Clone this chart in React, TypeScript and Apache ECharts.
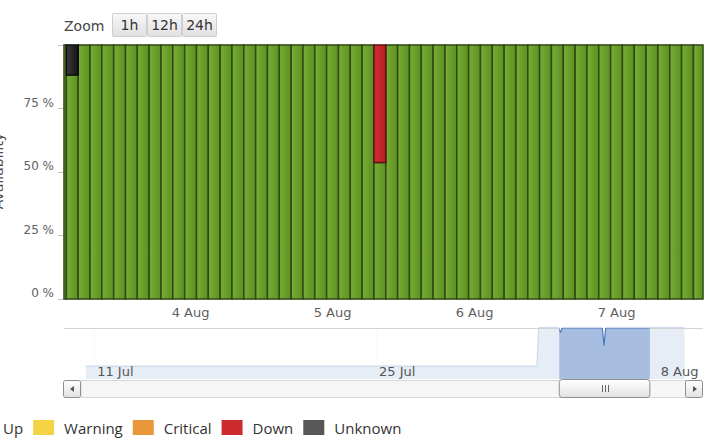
import React, { useEffect, useRef } from "react";
import * as echarts from "echarts";

const HOUR = 3600 * 1000;

// Availability per two-hour bucket; the first bucket is centred on 3 Aug 02:00
const firstBucket = new Date(2016, 7, 3, 2, 0).getTime();
const bucketHours = 2;

const upPct = [
  // 3 Aug 02:00 – 22:00
  100, 88.2, 100, 100, 100, 100, 100, 100, 100, 100, 100,
  // 4 Aug
  100, 100, 100, 100, 100, 100, 100, 100, 100, 100, 100, 100,
  // 5 Aug
  100, 100, 100, 100, 53.7, 100, 100, 100, 100, 100, 100, 100,
  // 6 Aug
  100, 100, 100, 100, 100, 100, 100, 100, 100, 100, 100, 100,
  // 7 Aug 00:00 – 14:00
  100, 100, 100, 100, 100, 100, 100, 100,
];
const warningPct = [
  0, 0, 0, 0, 0, 0, 0, 0, 0, 0, 0,
  0, 0, 0, 0, 0, 0, 0, 0, 0, 0, 0, 0,
  0, 0, 0, 0, 0, 0, 0, 0, 0, 0, 0, 0,
  0, 0, 0, 0, 0, 0, 0, 0, 0, 0, 0, 0,
  0, 0, 0, 0, 0, 0, 0, 0,
];
const criticalPct = [
  0, 0, 0, 0, 0, 0, 0, 0, 0, 0, 0,
  0, 0, 0, 0, 0, 0, 0, 0, 0, 0, 0, 0,
  0, 0, 0, 0, 0, 0, 0, 0, 0, 0, 0, 0,
  0, 0, 0, 0, 0, 0, 0, 0, 0, 0, 0, 0,
  0, 0, 0, 0, 0, 0, 0, 0,
];
const downPct = [
  0, 0, 0, 0, 0, 0, 0, 0, 0, 0, 0,
  0, 0, 0, 0, 0, 0, 0, 0, 0, 0, 0, 0,
  0, 0, 0, 0, 46.3, 0, 0, 0, 0, 0, 0, 0,
  0, 0, 0, 0, 0, 0, 0, 0, 0, 0, 0, 0,
  0, 0, 0, 0, 0, 0, 0, 0,
];
const unknownPct = [
  0, 11.8, 0, 0, 0, 0, 0, 0, 0, 0, 0,
  0, 0, 0, 0, 0, 0, 0, 0, 0, 0, 0, 0,
  0, 0, 0, 0, 0, 0, 0, 0, 0, 0, 0, 0,
  0, 0, 0, 0, 0, 0, 0, 0, 0, 0, 0, 0,
  0, 0, 0, 0, 0, 0, 0, 0,
];

// Navigator overview of the "Up" share over the whole period
const navTimes = [
  new Date(2016, 6, 10, 14).getTime(),
  new Date(2016, 7, 2, 0).getTime(),
  new Date(2016, 7, 2, 2).getTime(),
  new Date(2016, 7, 3, 2).getTime(),
  new Date(2016, 7, 3, 4).getTime(),
  new Date(2016, 7, 3, 6).getTime(),
  new Date(2016, 7, 5, 6).getTime(),
  new Date(2016, 7, 5, 8).getTime(),
  new Date(2016, 7, 5, 10).getTime(),
  new Date(2016, 7, 9, 8).getTime(),
];
const navUp = [0, 0, 100, 100, 88.2, 100, 100, 53.7, 100, 100];

// Visible window of the main chart and the navigator span
const viewMin = new Date(2016, 7, 3, 2, 36).getTime();
const viewMax = new Date(2016, 7, 7, 14, 37).getTime();
const navMin = new Date(2016, 6, 9, 12).getTime();
const navMax = new Date(2016, 7, 10, 6).getTime();

const mainTicks = [
  new Date(2016, 7, 4).getTime(),
  new Date(2016, 7, 5).getTime(),
  new Date(2016, 7, 6).getTime(),
  new Date(2016, 7, 7).getTime(),
];
const navTicks = [
  new Date(2016, 6, 11).getTime(),
  new Date(2016, 6, 25).getTime(),
  new Date(2016, 7, 8).getTime(),
];
const yTicks = [0, 25, 50, 75];

const statusNames = ["Up", "Warning", "Critical", "Down", "Unknown"];
const zoomButtons = ["1h", "12h", "24h"];
const months = ["Jan", "Feb", "Mar", "Apr", "May", "Jun", "Jul", "Aug", "Sep", "Oct", "Nov", "Dec"];

const AXIS_FONT = "DejaVu Sans, Verdana, sans-serif";
const LEGEND_FONT = "Open Sans, Noto Sans, sans-serif";

const dayLabel = (v: number) => {
  const d = new Date(v);
  return `${d.getDate()} ${months[d.getMonth()]}`;
};

const grad = (a: string, b: string) =>
  new echarts.graphic.LinearGradient(0, 0, 1, 0, [
    { offset: 0, color: a },
    { offset: 1, color: b },
  ]);

const statusStyles = [
  { fill: grad("#78ae35", "#5c8f21"), border: "#2f4a16", legend: "#6a9f2a" },
  { fill: grad("#f5d84c", "#e8c736"), border: "#8a7420", legend: "#f4d444" },
  { fill: grad("#eca040", "#dc8a28"), border: "#8a5516", legend: "#e9973a" },
  { fill: grad("#d42d31", "#b21f23"), border: "#5e1212", legend: "#cc2c2e" },
  { fill: grad("#3c3c3c", "#141414"), border: "#0c0c0c", legend: "#575757" },
];
const statusValues = [upPct, warningPct, criticalPct, downPct, unknownPct];

// Stacked rows [bucket time, lower edge, upper edge] for each status
const bucketTimes = upPct.map((_, i) => firstBucket + i * bucketHours * HOUR);
const stackedRows: number[][][] = statusValues.map(() => []);
bucketTimes.forEach((t, i) => {
  let base = 0;
  statusValues.forEach((vals, s) => {
    stackedRows[s].push([t, base, base + vals[i]]);
    base += vals[i];
  });
});

export default function App() {
  const ref = useRef<HTMLDivElement>(null);

  useEffect(() => {
    if (!ref.current) return;
    const chart = echarts.init(ref.current, undefined, { renderer: "svg" });

    const gridL = 64;
    const gridR = 11;
    const navTop = 328;
    const navBottom = 379;
    const halfBucket = (bucketHours / 2) * HOUR;

    const statusSeries = statusNames.map((name, s) => ({
      name,
      type: "custom",
      xAxisIndex: 0,
      yAxisIndex: 0,
      encode: { x: 0, y: [1, 2] },
      data: stackedRows[s],
      itemStyle: { color: statusStyles[s].legend },
      z: 2,
      renderItem: (params: any, api: any) => {
        const t = api.value(0);
        const lo = api.value(1);
        const hi = api.value(2);
        if (!(hi - lo > 0)) return null;
        const a = api.coord([t - halfBucket, hi]);
        const b = api.coord([t + halfBucket, lo]);
        const cs = params.coordSys;
        const shape = echarts.graphic.clipRectByRect(
          { x: a[0], y: a[1], width: b[0] - a[0], height: b[1] - a[1] },
          { x: cs.x, y: cs.y, width: cs.width, height: cs.height }
        );
        if (!shape) return null;
        return {
          type: "rect",
          shape,
          style: {
            fill: statusStyles[s].fill,
            stroke: statusStyles[s].border,
            lineWidth: 1.5,
          },
        };
      },
    }));

    chart.setOption({
      animation: false,
      backgroundColor: "#ffffff",
      grid: [
        {
          left: gridL,
          right: gridR,
          top: 45,
          bottom: 442 - 299,
          show: true,
          borderColor: "#c4c4c4",
          borderWidth: 1,
          backgroundColor: "#ffffff",
        },
        {
          left: gridL,
          right: gridR,
          top: navTop,
          height: navBottom - navTop,
          show: false,
        },
      ],
      legend: {
        data: statusNames.map((n, i) => ({ name: n, itemStyle: { color: statusStyles[i].legend, borderWidth: 0 } })),
        left: -28,
        top: 420,
        padding: 0,
        itemWidth: 21,
        itemHeight: 15,
        itemGap: 10,
        icon: "rect",
        selectedMode: false,
        textStyle: {
          fontFamily: LEGEND_FONT,
          fontSize: 15,
          color: "#333333",
          padding: [0, 0, 0, 5],
        },
      },
      xAxis: [
        {
          type: "value",
          gridIndex: 0,
          min: viewMin,
          max: viewMax,
          axisLine: { show: false },
          axisTick: { show: false },
          splitLine: { show: false },
          axisLabel: {
            customValues: mainTicks,
            formatter: (v: number) => dayLabel(v),
            color: "#606060",
            fontFamily: AXIS_FONT,
            fontSize: 13,
            margin: 7,
          },
        },
        {
          type: "value",
          gridIndex: 1,
          min: navMin,
          max: navMax,
          z: 10,
          axisLine: { show: false },
          axisTick: { show: false },
          splitLine: { show: false },
          axisLabel: {
            customValues: navTicks,
            formatter: (v: number) => dayLabel(v),
            inside: true,
            align: "left",
            padding: [0, 0, 0, 3],
            color: "#555555",
            fontFamily: AXIS_FONT,
            fontSize: 13,
            margin: 1,
          },
        },
      ],
      yAxis: [
        {
          type: "value",
          gridIndex: 0,
          min: 0,
          max: 100,
          interval: 25,
          axisLine: { show: false },
          axisTick: { show: true, length: 6, lineStyle: { color: "#c0c0c0" } },
          splitLine: { show: false },
          axisLabel: {
            formatter: (v: number) => (yTicks.indexOf(v) >= 0 ? `${v} %` : ""),
            verticalAlign: "bottom",
            margin: 10,
            color: "#606060",
            fontFamily: AXIS_FONT,
            fontSize: 12,
          },
        },
        {
          type: "value",
          gridIndex: 1,
          min: -34,
          max: 100,
          show: false,
        },
      ],
      series: [
        ...statusSeries,
        {
          name: "navigator",
          type: "line",
          xAxisIndex: 1,
          yAxisIndex: 1,
          data: navTimes.map((t, i) => [t, navUp[i]]),
          symbol: "none",
          lineStyle: { color: "#4a78bf", width: 1.2 },
          areaStyle: { color: "#a6bde0", opacity: 1, origin: "start" },
          z: 2,
        },
      ],
    });

    const px = (v: number) => chart.convertToPixel({ xAxisIndex: 1 }, v) as number;
    const s0 = px(viewMin);
    const s1 = px(viewMax);
    const left = gridL;
    const right = 714 - gridR;

    const handle = (x: number) => ({
      type: "group",
      z: 30,
      children: [
        {
          type: "rect",
          shape: { x: x - 4.5, y: 344, width: 9, height: 19, r: 3 },
          style: { fill: "#ffffff", stroke: "#6b6b6b", lineWidth: 1 },
        },
        { type: "line", shape: { x1: x - 1.5, y1: 348, x2: x - 1.5, y2: 359 }, style: { stroke: "#6b6b6b", lineWidth: 1 } },
        { type: "line", shape: { x1: x + 1.5, y1: 348, x2: x + 1.5, y2: 359 }, style: { stroke: "#6b6b6b", lineWidth: 1 } },
      ],
    });

    const btnGradient = new echarts.graphic.LinearGradient(0, 0, 0, 1, [
      { offset: 0, color: "#f8f8f8" },
      { offset: 1, color: "#e0e0e0" },
    ]);

    const zoomGroup = {
      type: "group",
      z: 30,
      children: [
        {
          type: "text",
          x: 64,
          y: 26,
          style: { text: "Zoom", font: `14px ${AXIS_FONT}`, fill: "#444444", verticalAlign: "middle" },
        },
        ...zoomButtons.flatMap((label, i) => {
          const bx = 112 + i * 35;
          return [
            {
              type: "rect",
              shape: { x: bx + 0.5, y: 13.5, width: 34, height: 23, r: 1 },
              style: { fill: btnGradient, stroke: "#cfcfcf", lineWidth: 1 },
            },
            {
              type: "text",
              x: bx + 17.5,
              y: 25,
              style: {
                text: label,
                font: `14px ${AXIS_FONT}`,
                fill: "#333333",
                align: "center",
                verticalAlign: "middle",
              },
            },
          ];
        }),
      ],
    };

    // Axis title sits partly beyond the left edge of the canvas
    const yTitle = {
      type: "text",
      z: 30,
      x: 4.5,
      y: 171,
      rotation: Math.PI / 2,
      style: {
        text: "Availability",
        font: `14px ${AXIS_FONT}`,
        fill: "#4d4d4d",
        align: "center",
        verticalAlign: "bottom",
      },
    };

    const navGridLines = navTicks.map((t) => {
      const x = Math.round(px(t)) + 0.5;
      return {
        type: "line",
        z: 0,
        shape: { x1: x, y1: navTop, x2: x, y2: 366 },
        style: { stroke: "#ececec", lineWidth: 1 },
      };
    });

    const thumbGradient = new echarts.graphic.LinearGradient(0, 0, 0, 1, [
      { offset: 0, color: "#ffffff" },
      { offset: 1, color: "#e2e2e2" },
    ]);

    const scrollY = 380;
    const scrollH = 17;
    const mid = Math.round((s0 + s1) / 2);
    const scrollbar = {
      type: "group",
      z: 30,
      children: [
        {
          type: "rect",
          shape: { x: left + 17, y: scrollY + 0.5, width: right - left - 34, height: scrollH },
          style: { fill: "#f6f6f6", stroke: "#d6d6d6", lineWidth: 1 },
        },
        {
          type: "rect",
          shape: { x: left - 0.5, y: scrollY + 0.5, width: 17, height: scrollH, r: 2 },
          style: { fill: thumbGradient, stroke: "#8e8e8e", lineWidth: 1 },
        },
        {
          type: "polygon",
          shape: { points: [[left + 6, scrollY + 9], [left + 10, scrollY + 6], [left + 10, scrollY + 12]] },
          style: { fill: "#555555" },
        },
        {
          type: "rect",
          shape: { x: right - 17.5, y: scrollY + 0.5, width: 17, height: scrollH, r: 2 },
          style: { fill: thumbGradient, stroke: "#8e8e8e", lineWidth: 1 },
        },
        {
          type: "polygon",
          shape: { points: [[right - 6, scrollY + 9], [right - 10, scrollY + 6], [right - 10, scrollY + 12]] },
          style: { fill: "#555555" },
        },
        {
          type: "rect",
          shape: { x: s0, y: scrollY - 0.5, width: s1 - s0, height: scrollH + 1, r: 3 },
          style: { fill: thumbGradient, stroke: "#8e8e8e", lineWidth: 1 },
        },
        ...[-3, 0, 3].map((d) => ({
          type: "line",
          shape: { x1: mid + d + 0.5, y1: scrollY + 5, x2: mid + d + 0.5, y2: scrollY + 12 },
          style: { stroke: "#666666", lineWidth: 1 },
        })),
      ],
    };

    chart.setOption({
      graphic: [
        zoomGroup,
        yTitle,
        ...navGridLines,
        {
          type: "rect",
          z: 3,
          shape: { x: left, y: navTop, width: s0 - left, height: navBottom - navTop },
          style: { fill: "rgba(255,255,255,0.72)" },
        },
        {
          type: "rect",
          z: 3,
          shape: { x: s1, y: navTop, width: right - s1, height: navBottom - navTop },
          style: { fill: "rgba(255,255,255,0.72)" },
        },
        {
          type: "line",
          z: 4,
          shape: { x1: left, y1: navTop + 0.5, x2: s0, y2: navTop + 0.5 },
          style: { stroke: "#d4d4d4", lineWidth: 1 },
        },
        {
          type: "line",
          z: 4,
          shape: { x1: s1, y1: navTop + 0.5, x2: right, y2: navTop + 0.5 },
          style: { stroke: "#d4d4d4", lineWidth: 1 },
        },
        handle(s0),
        handle(s1),
        scrollbar,
      ],
    });

    return () => chart.dispose();
  }, []);

  return (
    <div
      ref={ref}
      style={{ position: "fixed", left: 0, top: 0, width: 714, height: 442, background: "#fff" }}
    />
  );
}
